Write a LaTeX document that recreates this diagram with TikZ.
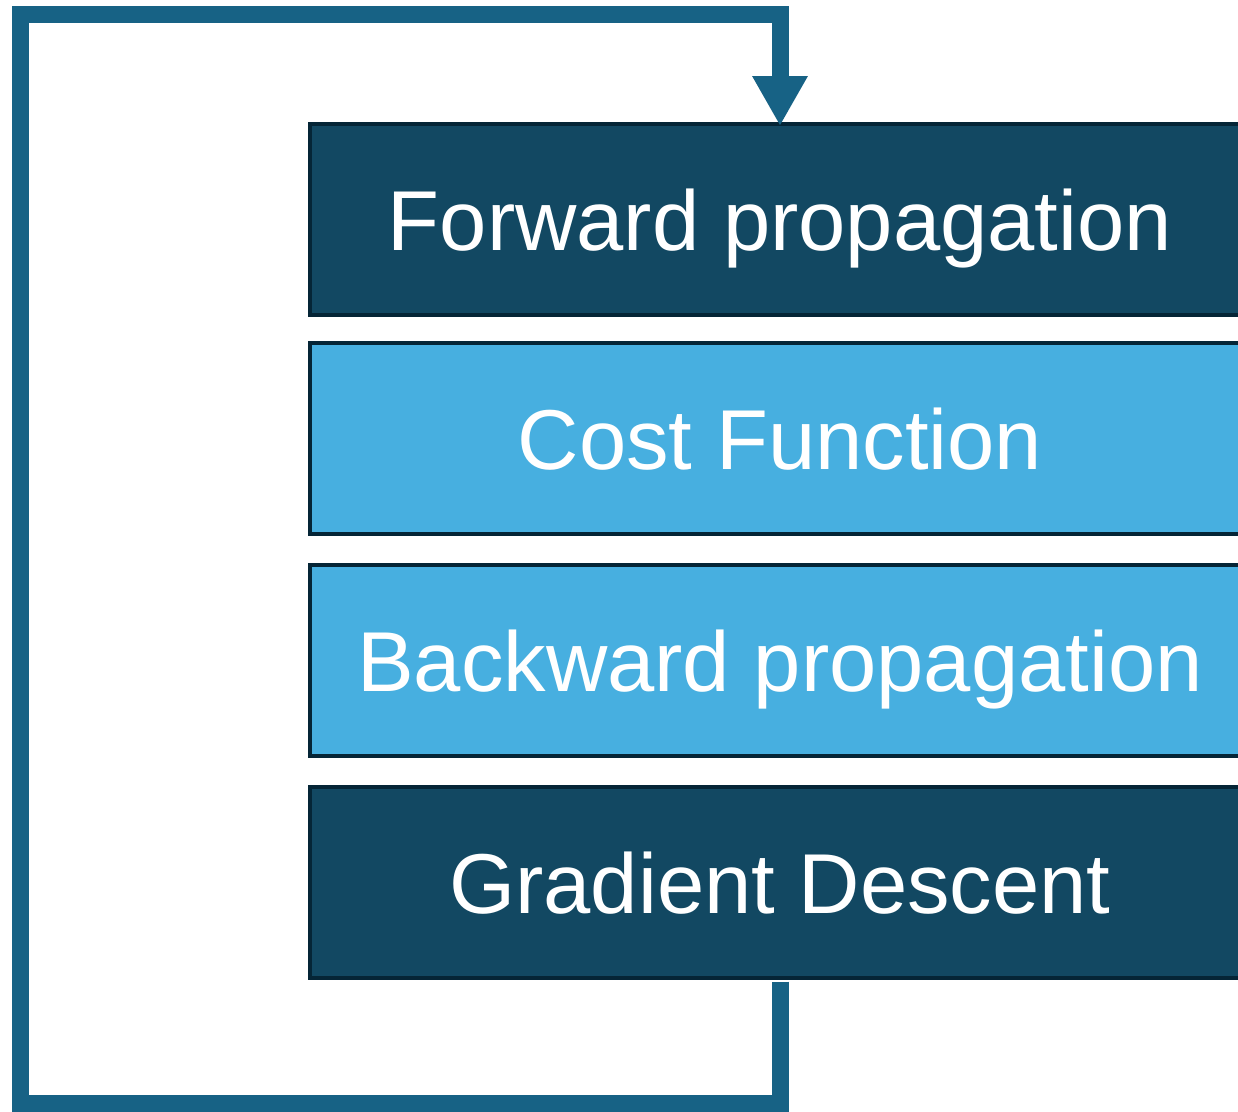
\documentclass[tikz,border=0pt]{standalone}
\usepackage{fontspec}
\setmainfont{Liberation Sans}
\usetikzlibrary{arrows.meta}
\definecolor{darkfill}{RGB}{18,72,98}
\definecolor{lightfill}{RGB}{71,175,224}
\definecolor{edgecol}{RGB}{5,37,54}
\definecolor{loopcol}{RGB}{23,98,133}
\begin{document}
\begin{tikzpicture}[x=1pt,y=-1pt,
  stage/.style={draw=edgecol, line width=4pt, minimum width=940pt, minimum height=191pt,
    inner sep=0pt, text=white, text height=62pt, text depth=0pt,
    font=\fontsize{85}{100}\selectfont},
  darkstage/.style={stage, fill=darkfill},
  lightstage/.style={stage, fill=lightfill},
  loopline/.style={draw=loopcol, line width=17pt, line join=miter,
    -{Triangle[width=52pt,length=50pt]}}]
\useasboundingbox (0,0) rectangle (1238,1111);
\clip (0,0) rectangle (1238,1111);
\node[darkstage] (fp) at (780,219.5) {Forward propagation};
\node[lightstage] (cf) at (780,438) {Cost Function};
\node[lightstage] (bp) at (780,660) {Backward propagation};
\node[darkstage] (gd) at (780,882) {Gradient Descent};
\coordinate (bl) at (20.5,1103);
\coordinate (tl) at (20.5,14);
\draw[loopline] ([yshift=-2pt]gd.south) |- (bl) -- (tl) -| ([yshift=-4pt]fp.north);
\end{tikzpicture}
\end{document}
